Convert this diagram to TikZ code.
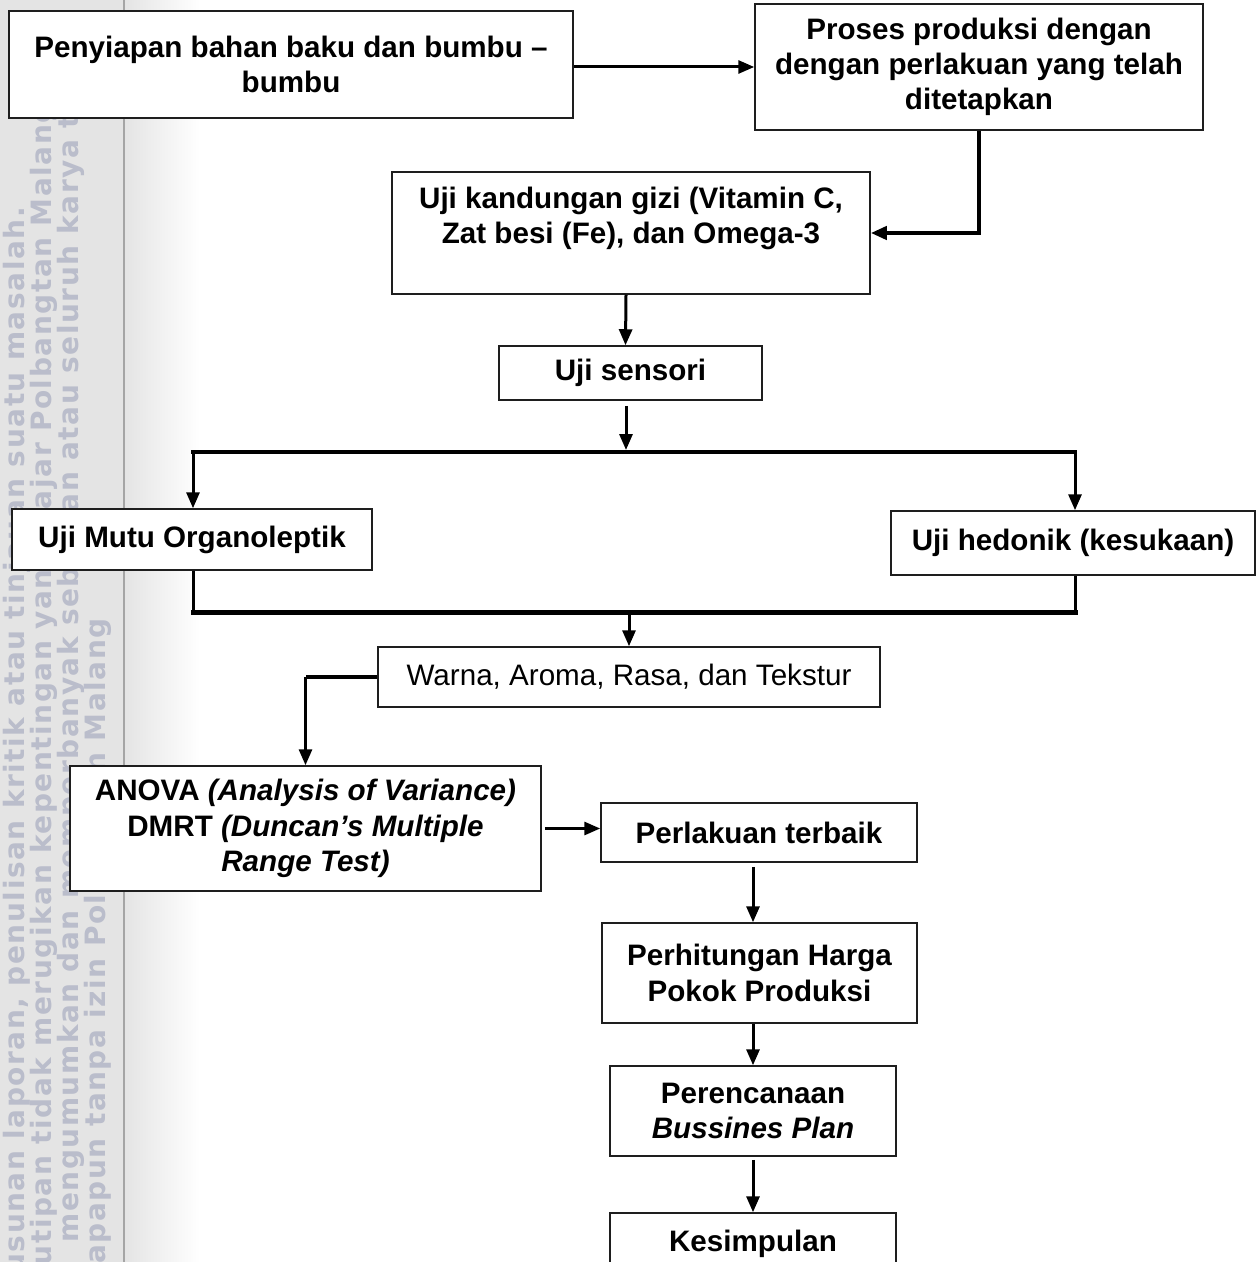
\documentclass[tikz,border=0pt]{standalone}
\usepackage{fontspec}
\setmainfont{Liberation Sans}
\newfontfamily\wmfont[LetterSpace=5.5]{DejaVu Sans Bold}
\usetikzlibrary{arrows.meta,calc}
\definecolor{wmbg}{RGB}{228,228,228}
\definecolor{wmline}{RGB}{165,165,165}
\definecolor{wmtext}{RGB}{186,189,203}
\definecolor{boxline}{RGB}{30,30,30}
\tikzset{
  box/.style={draw=boxline, line width=0.75pt, fill=white, inner sep=0pt, align=center,
    font=\fontsize{14.8}{17.6}\selectfont\bfseries},
  plainbox/.style={box, font=\fontsize{14.8}{17.6}\selectfont},
  tip/.style={-{Triangle[length=8pt,width=6.5pt]}},
  arr/.style={line width=1.5pt, tip},
  heavy/.style={line width=2pt},
  heavyarr/.style={line width=2pt, tip},
  wm/.style={rotate=90, inner sep=0pt, text=wmtext, anchor=base east,
    font=\wmfont\fontsize{14}{14}\selectfont},
}
\begin{document}
\begin{tikzpicture}[x=0.5pt,y=-0.5pt]
\useasboundingbox (0,0) rectangle (1258,1262);
\clip (0,0) rectangle (1258,1262);
\fill[white] (0,0) rectangle (1258,1262);
\fill[wmbg] (0,0) rectangle (124,1262);
\shade[left color=wmbg, right color=white] (124,0) rectangle (200,1262);
\draw[wmline, line width=1pt] (124,0) -- (124,1262);
% watermark
\node[wm] (w1) at (25,207) {usunan laporan, penulisan kritik atau tinjauan suatu masalah.};
\node[wm] (w2) at (51,103) {utipan tidak merugikan kepentingan yang wajar Polbangtan Malang};
\node[wm, anchor=base west] (w3) at (78,1243) {mengumumkan dan memperbanyak sebagian atau seluruh karya tulis};
\node[wm] (w4) at (105,618) {apapun tanpa izin Polbangtan Malang};
% boxes
\node[box, minimum width=282pt, minimum height=53.5pt] (A) at (291,64.5) {Penyiapan bahan baku dan bumbu –\\bumbu};
\node[box, minimum width=224pt, minimum height=63pt] (B) at (979,67) {Proses produksi dengan\\dengan perlakuan yang telah\\ditetapkan};
\node[box, minimum width=239pt, minimum height=61pt] (C) at (631,233) {Uji kandungan gizi (Vitamin C,\\Zat besi (Fe), dan Omega-3\\\mbox{}};
\node[box, minimum width=131.5pt, minimum height=27pt] (D) at (630.5,373) {Uji sensori};
\node[box, minimum width=180pt, minimum height=30.5pt] (E) at (192,539.5) {Uji Mutu Organoleptik};
\node[box, minimum width=182pt, minimum height=32pt] (F) at (1073,543) {Uji hedonik (kesukaan)};
\node[plainbox, minimum width=251pt, minimum height=30pt] (G) at (629,677) {Warna, Aroma, Rasa, dan Tekstur};
\node[box, minimum width=235.5pt, minimum height=62.5pt] (H) at (305.5,828.5) {ANOVA \textit{(Analysis of Variance)}\\DMRT \textit{(Duncan’s Multiple}\\\textit{Range Test)}};
\node[box, minimum width=158pt, minimum height=29.5pt] (I) at (759,832.5) {Perlakuan terbaik};
\node[box, minimum width=157.5pt, minimum height=50pt] (J) at (759.5,973) {Perhitungan Harga\\Pokok Produksi};
\node[box, minimum width=143pt, minimum height=45pt] (K) at (753,1111) {Perencanaan\\\textit{Bussines Plan}};
\node[box, minimum width=143pt, minimum height=31pt] (L) at (753,1244) {Kesimpulan};
% connectors
\coordinate (tm) at (626,450);
\coordinate (tl) at (193,452);
\coordinate (tr) at (1075,452);
\coordinate (bl) at (193,612);
\coordinate (br) at (1075,612);
\coordinate (bm) at (629,612);
\draw[arr] (A.east |- B.west) -- (B.west);
\draw[heavyarr] (B.south) |- (C.east);
\draw[arr] ($(C.south)+(-5,0)$) -- ($(D.north)+(-5,0)$);
\draw[arr] ($(D.south -| tm)+(0,5)$) -- (tm);
\draw[heavy, line cap=rect] (tl) -- (tr);
\draw[arr] (tl) -- (tl |- E.north);
\draw[arr] (tr) -- (tr |- F.north);
\draw[line width=1.5pt] (E.south -| bl) -- (bl);
\draw[line width=1.5pt] (F.south -| br) -- (br);
\draw[line width=2.5pt, line cap=rect] (bl) -- (br);
\draw[arr] (bm) -- (G.north);
\draw[heavy] (G.west) -- (G.west -| H.north);
\draw[arr] (G.west -| H.north) -- (H.north);
\draw[arr] ($(H.east)+(3,0)$) -- (H.east -| I.west);
\draw[arr] ($(I.south -| K.north)+(0,4)$) -- (J.north -| K.north);
\draw[arr] (J.south -| K.north) -- (K.north);
\draw[arr] ($(K.south)+(0,3)$) -- (L.north);
\end{tikzpicture}
\end{document}
